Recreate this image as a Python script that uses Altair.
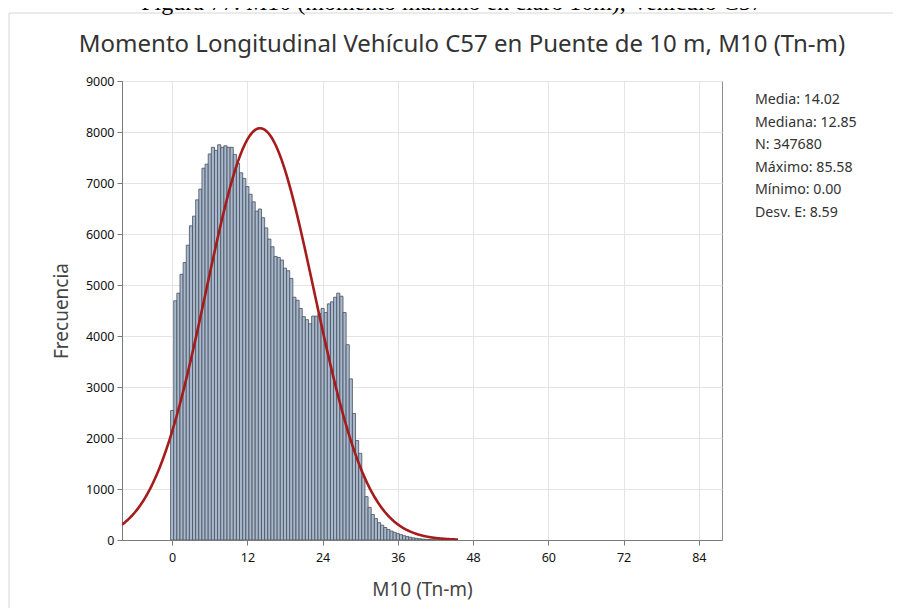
import altair as alt
import pandas as pd
import numpy as np

# ---------------- data ----------------
caption_text = "Figura 77.   M10 (momento máximo en claro 10m), Vehículo C57"
title_text = "Momento Longitudinal Vehículo C57 en Puente de 10 m, M10 (Tn-m)"
x_title = "M10 (Tn-m)"
y_title = "Frecuencia"
x_ticks = [0, 12, 24, 36, 48, 60, 72, 84]
y_ticks = [0, 1000, 2000, 3000, 4000, 5000, 6000, 7000, 8000, 9000]

stats_labels = ["Media", "Mediana", "N", "Máximo", "Mínimo", "Desv. E"]
stats_values = ["14.02", "12.85", "347680", "85.58", "0.00", "8.59"]

mean_val = 14.02
sd_val = 8.59
n_val = 347680
bin_width = 0.5

# histogram counts, bins centred at 0, 0.5, 1.0, ...
counts = [
    2540, 4690, 4840, 5210, 5440, 5780, 6160, 6350, 6670, 6880,
    7290, 7370, 7570, 7700, 7640, 7750, 7700, 7730, 7700, 7700,
    7560, 7390, 7200, 7090, 6930, 6780, 6630, 6450, 6490, 6320,
    6120, 5900, 5750, 5560, 5540, 5490, 5330, 5280, 5130, 4760,
    4700, 4540, 4380, 4320, 4240, 4390, 4390, 4440, 4540, 4460,
    4630, 4670, 4760, 4840, 4780, 4460, 3830, 3160, 2480, 1950,
    1700, 1240, 850, 640, 500, 420, 340, 290, 245, 205,
    175, 150, 125, 105, 85, 68, 54, 42, 32, 24,
    18, 13, 9, 6, 4, 3, 2, 2, 1, 1, 1,
]

bin_mid = np.arange(len(counts)) * bin_width
hist = pd.DataFrame({
    "lo": bin_mid - bin_width / 2,
    "hi": bin_mid + bin_width / 2,
    "count": counts,
})

# ---------------- chart ----------------
W, H = 600, 459
FONT = "Noto Sans"

xscale = alt.Scale(domain=[-8, 87.7], nice=False, zero=False)
yscale = alt.Scale(domain=[0, 9000], nice=False)

x_axis = alt.Axis(values=x_ticks, title=x_title, labelPadding=6, titlePadding=17,
                  grid=True, format="d")
y_axis = alt.Axis(values=y_ticks, title=y_title, labelPadding=3, titlePadding=14,
                  grid=True, format="d")

bars = alt.Chart(hist).mark_bar(
    fill="#a7b9d0", stroke="#4a4f57", strokeWidth=0.8, clip=True
).encode(
    x=alt.X("lo:Q", scale=xscale, axis=x_axis),
    x2="hi:Q",
    y=alt.Y("count:Q", scale=yscale, axis=y_axis),
    y2=alt.datum(0),
)

curve = alt.Chart(alt.sequence(-8, 45.7, 0.1, as_="x")).transform_calculate(
    y=f"{n_val}*{bin_width}/({sd_val}*sqrt(2*PI))*exp(-0.5*pow((datum.x-{mean_val})/{sd_val},2))"
).mark_line(color="#a51c1c", strokeWidth=2.6, clip=True).encode(
    x=alt.X("x:Q", scale=xscale, axis=x_axis),
    y=alt.Y("y:Q", scale=yscale, axis=y_axis),
)

one = pd.DataFrame({"a": [0]})

frame_left = alt.Chart(one).mark_rule(color="#d6d6d6", strokeWidth=1).encode(
    x=alt.value(-113), y=alt.value(-68), y2=alt.value(600)
)
frame_top = alt.Chart(one).mark_rule(color="#d6d6d6", strokeWidth=1).encode(
    x=alt.value(-113), x2=alt.value(800), y=alt.value(-68)
)

caption = alt.Chart(pd.DataFrame({"t": [caption_text]})).mark_text(
    font="Liberation Serif", fontSize=24, color="#000000", align="center",
    baseline="alphabetic"
).encode(text="t:N", x=alt.value(330), y=alt.value(-71))

title = alt.Chart(pd.DataFrame({"t": [title_text]})).mark_text(
    font=FONT, fontSize=24, color="#333333", align="center", baseline="middle"
).encode(text="t:N", x=alt.value(340), y=alt.value(-36))

stats_lines = [f"{l}: {v}" for l, v in zip(stats_labels, stats_values)]
stats = alt.Chart(one).mark_text(
    font=FONT, fontSize=14.2, color="#333333", align="left", baseline="middle",
    lineHeight=22.6
).encode(text=alt.value(stats_lines), x=alt.value(633), y=alt.value(19))

chart = alt.layer(frame_left, frame_top, bars, curve, caption, title, stats).properties(
    width=W, height=H,
    autosize=alt.AutoSizeParams(type="none"),
    padding={"left": 114, "top": 73, "right": 171, "bottom": 68},
).configure_view(
    stroke="#8c8c8c", strokeWidth=1
).configure_axis(
    labelFont=FONT, labelFontSize=12.5, labelColor="#111111",
    titleFont=FONT, titleFontSize=19, titleColor="#444444", titleFontWeight="normal",
    gridColor="#e4e4e4", gridWidth=1,
    domainColor="#7a7a7a", tickColor="#7a7a7a", tickSize=5,
)

chart.save("out.html", embed_options={"renderer": "svg", "actions": False})
